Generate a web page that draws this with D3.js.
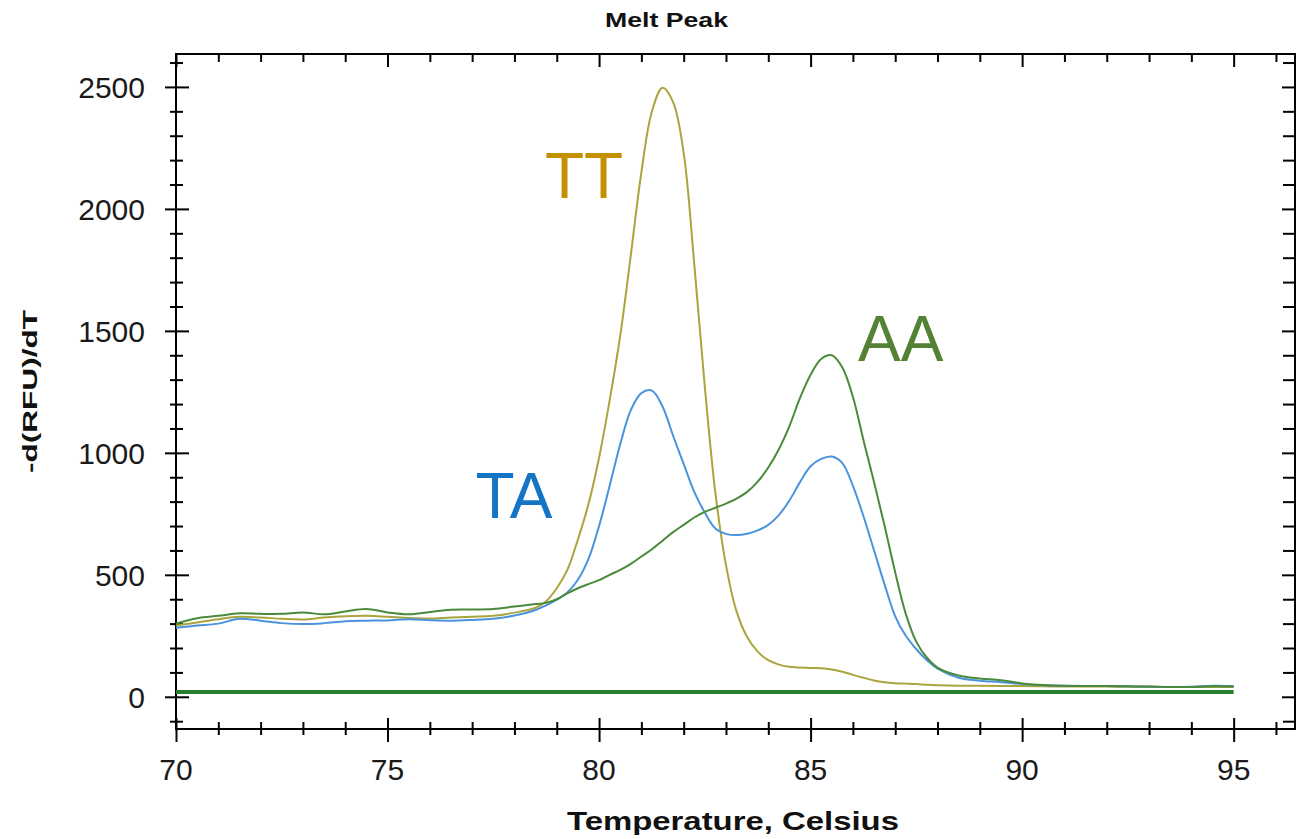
<!DOCTYPE html>
<html>
<head>
<meta charset="utf-8">
<script src="https://cdn.jsdelivr.net/npm/d3@7"></script>
<style>
  body { margin: 0; background: #fff; }
  text { font-family: "Liberation Sans", Arial, sans-serif; }
</style>
</head>
<body>
<script>
// ---------------- data ----------------
let temps = [70, 70.5, 71, 71.5, 72, 72.5, 73, 73.5, 74, 74.5, 75, 75.5, 76, 76.5, 77, 77.5, 78, 78.5,
             78.75, 79, 79.25, 79.5, 79.75, 80, 80.25, 80.5, 80.75, 81, 81.25, 81.5, 81.75, 82, 82.25, 82.5,
             82.75, 83, 83.25, 83.5, 83.75, 84, 84.25, 84.5, 84.75, 85, 85.25, 85.5, 85.75, 86, 86.25, 86.5,
             86.75, 87, 87.25, 87.5, 87.75, 88,
             88.5, 89, 89.5, 90, 90.5, 91, 91.5, 92, 92.5, 93, 93.5, 94, 94.5, 95];

let ttValues = [292, 305, 318, 328, 325, 320, 317, 325, 330, 332, 328, 323, 321, 325, 328, 332, 345, 365,
                392, 445, 520, 645, 790, 980, 1215, 1480, 1810, 2150, 2400, 2497, 2438, 2230, 1775, 1270,
                835, 540, 350, 245, 185, 150, 132, 123, 120, 118, 117, 112, 103, 90, 78, 67,
                60, 56, 54, 52, 49, 47,
                45, 45, 44, 44, 43, 42, 42, 42, 41, 41, 40, 40, 40, 40];

let taValues = [283, 292, 300, 320, 312, 302, 298, 302, 310, 312, 313, 318, 314, 312, 315, 320, 333, 356,
                375, 398, 428, 480, 565, 700, 865, 1035, 1175, 1245, 1255, 1190, 1070, 955, 840, 755,
                690, 668, 663, 668, 682, 705, 745, 805, 880, 945, 975, 985, 958, 865, 740, 600,
                460, 330, 250, 195, 150, 115,
                78, 66, 60, 52, 47, 45, 44, 44, 43, 41, 40, 41, 45, 44];

let aaValues = [300, 322, 332, 342, 340, 340, 346, 338, 350, 360, 346, 338, 348, 357, 358, 360, 370, 380,
                385, 400, 424, 445, 462, 478, 500, 520, 545, 575, 605, 640, 675, 705, 735, 758,
                775, 792, 812, 840, 882, 940, 1015, 1110, 1225, 1320, 1385, 1400, 1350, 1230, 1052, 880,
                700, 510, 340, 225, 160, 120,
                87, 75, 68, 55, 48, 45, 44, 44, 43, 42, 40, 40, 43, 42];

let baselineTemps  = [70, 95];
let baselineValues = [20, 20];

let xMajor = [70, 75, 80, 85, 90, 95];
let yMajor = [0, 500, 1000, 1500, 2000, 2500];

let seriesNames  = ["TT", "TA", "AA"];
let seriesColors = ["#aaa43c", "#4b93dc", "#4a8a3a"];
let labelColors  = ["#c49000", "#1475c6", "#548235"];
// label anchor points in data units (temperature, value)
let labelTemps   = [78.72, 77.08, 86.12];
let labelValues  = [2045, 733, 1377];

// ---------------- layout ----------------
let w = 1312, h = 839;
let mLeft = 176, mTop = 54, mRight = 1295, mBottom = 729;

let svg = d3.select("body").append("svg")
    .attr("width", w)
    .attr("height", h);

let x = d3.scaleLinear().domain([70, 96.45]).range([mLeft, mRight]);
let y = d3.scaleLinear().domain([-132, 2635]).range([mBottom, mTop]);

// minor / major ticks
let xMinor = d3.range(70, 97, 1).filter(d => xMajor.indexOf(d) < 0);
let yMinor = d3.range(-100, 2700, 100).filter(d => yMajor.indexOf(d) < 0 && y(d) > mTop);

function tickGroup(axisFn, scale, values, pos, a, b, dir) {
    let g = svg.append("g")
        .attr("transform", dir === "h" ? `translate(0,${pos})` : `translate(${pos},0)`)
        .call(axisFn(scale).tickValues(values).tickFormat("").tickSizeOuter(0));
    g.select(".domain").remove();
    g.selectAll(".tick line")
        .attr(dir === "h" ? "y1" : "x1", a)
        .attr(dir === "h" ? "y2" : "x2", b)
        .attr("stroke", "#000")
        .attr("stroke-width", 2);
    return g;
}

// bottom: crossing ticks
tickGroup(d3.axisBottom, x, xMinor, mBottom, -7, 6, "h");
tickGroup(d3.axisBottom, x, xMajor, mBottom, -11, 13, "h");
// top: inward
tickGroup(d3.axisTop, x, xMinor, mTop, 0, 8, "h");
tickGroup(d3.axisTop, x, xMajor, mTop, 0, 13, "h");
// left: crossing ticks
tickGroup(d3.axisLeft, y, yMinor, mLeft, -6, 7, "v");
tickGroup(d3.axisLeft, y, yMajor, mLeft, -11, 13, "v");
// right: inward
tickGroup(d3.axisRight, y, yMinor, mRight, -12, 0, "v");
tickGroup(d3.axisRight, y, yMajor, mRight, -13, 0, "v");

// frame
svg.append("rect")
    .attr("x", mLeft).attr("y", mTop)
    .attr("width", mRight - mLeft).attr("height", mBottom - mTop)
    .attr("fill", "none")
    .attr("stroke", "#000")
    .attr("stroke-width", 2);

// tick labels
svg.selectAll(".xlab")
    .data(xMajor)
    .enter()
    .append("text")
        .text(d => d)
        .attr("x", d => x(d))
        .attr("y", 780)
        .attr("text-anchor", "middle")
        .attr("font-size", "30px")
        .attr("fill", "#1a1a1a");

svg.selectAll(".ylab")
    .data(yMajor)
    .enter()
    .append("text")
        .text(d => d)
        .attr("x", 145)
        .attr("y", d => y(d) + 11)
        .attr("text-anchor", "end")
        .attr("font-size", "30px")
        .attr("fill", "#1a1a1a");

// titles
svg.append("text")
    .text("Melt Peak")
    .attr("x", 605).attr("y", 27)
    .attr("font-size", "21px")
    .attr("font-weight", "bold")
    .attr("textLength", 123)
    .attr("lengthAdjust", "spacingAndGlyphs")
    .attr("fill", "#111");

svg.append("text")
    .text("Temperature, Celsius")
    .attr("x", 567).attr("y", 830)
    .attr("font-size", "26px")
    .attr("font-weight", "bold")
    .attr("textLength", 332)
    .attr("lengthAdjust", "spacingAndGlyphs")
    .attr("fill", "#111");

svg.append("text")
    .text("-d(RFU)/dT")
    .attr("transform", "translate(37,473) rotate(-90)")
    .attr("font-size", "21px")
    .attr("font-weight", "bold")
    .attr("textLength", 163)
    .attr("lengthAdjust", "spacingAndGlyphs")
    .attr("fill", "#111");

// curves
let line = d3.line()
    .x(d => x(d[0]))
    .y(d => y(d[1]))
    .curve(d3.curveCatmullRom.alpha(0.5));

// thick baseline (threshold)
svg.append("path")
    .attr("d", line(baselineTemps.map((t, i) => [t, baselineValues[i]])))
    .attr("fill", "none")
    .attr("stroke", "#2a7f2f")
    .attr("stroke-width", 4);

let seriesValues = [ttValues, taValues, aaValues];

svg.selectAll(".curve")
    .data(seriesValues)
    .enter()
    .append("path")
        .attr("d", vals => line(temps.map((t, i) => [t, vals[i]])))
        .attr("fill", "none")
        .attr("stroke", (d, i) => seriesColors[i])
        .attr("stroke-width", 2);

// series labels
svg.selectAll(".slabel")
    .data(seriesNames)
    .enter()
    .append("text")
        .text(d => d)
        .attr("x", (d, i) => x(labelTemps[i]))
        .attr("y", (d, i) => y(labelValues[i]))
        .attr("font-family", "'Open Sans', sans-serif")
        .attr("font-size", "64px")
        .attr("fill", (d, i) => labelColors[i]);
</script>
</body>
</html>
